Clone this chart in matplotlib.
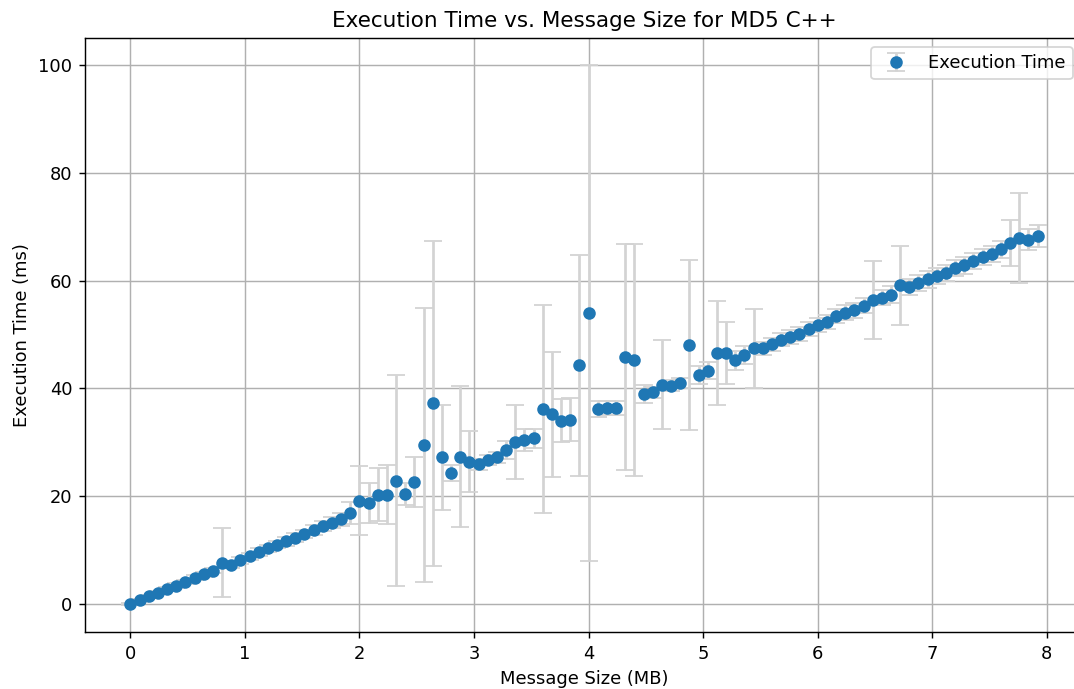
import numpy as np
import matplotlib
matplotlib.use('Agg')
import matplotlib.pyplot as plt

# message sizes in MB (100 sizes, 0.08 MB apart)
message_size = np.round(np.arange(100) * 0.08, 2)

# mean execution time in ms
exec_time = [
    0.0, 0.7, 1.4, 2.1, 2.8, 3.4, 4.1, 4.9, 5.5, 6.2,
    7.6, 7.3, 8.1, 8.8, 9.6, 10.3, 11.0, 11.6, 12.3, 13.0,
    13.7, 14.5, 15.1, 15.7, 16.9, 19.1, 18.8, 20.3, 20.3, 22.9,
    20.4, 22.6, 29.5, 37.2, 27.2, 24.3, 27.3, 26.4, 25.9, 26.7,
    27.2, 28.6, 30.1, 30.4, 30.7, 36.1, 35.2, 34.0, 34.2, 44.3,
    54.0, 36.1, 36.4, 36.4, 45.8, 45.2, 39.0, 39.3, 40.7, 40.5,
    41.0, 48.1, 42.5, 43.3, 46.6, 46.6, 45.2, 46.2, 47.4, 47.4,
    48.2, 49.0, 49.6, 50.0, 51.0, 51.7, 52.4, 53.4, 54.0, 54.5,
    55.3, 56.4, 56.8, 57.4, 59.1, 58.8, 59.6, 60.2, 60.8, 61.4,
    62.3, 62.8, 63.6, 64.4, 65.0, 65.8, 67.0, 67.9, 67.6, 68.3,
]

# standard deviation (error bar half-length) in ms
exec_std = [
    0.2, 0.3, 0.3, 0.3, 0.4, 0.4, 0.4, 0.5, 0.5, 0.5,
    6.4, 0.6, 0.6, 0.6, 0.7, 0.7, 0.7, 0.8, 0.8, 0.8,
    0.9, 0.9, 1.0, 1.2, 2.0, 6.4, 3.7, 5.0, 5.4, 19.5,
    2.0, 4.6, 25.4, 30.2, 9.8, 1.5, 13.1, 5.7, 1.0, 1.0,
    1.0, 1.7, 6.9, 2.0, 1.8, 19.3, 11.6, 4.0, 4.0, 20.5,
    46.0, 1.5, 1.3, 1.3, 21.0, 21.5, 1.7, 1.0, 8.3, 1.0,
    1.0, 15.8, 1.7, 1.5, 9.7, 5.7, 1.8, 1.7, 7.4, 1.2,
    1.2, 1.2, 1.3, 1.3, 1.3, 1.3, 1.3, 1.3, 1.4, 1.4,
    1.4, 7.2, 1.4, 1.5, 7.4, 1.5, 1.5, 1.5, 1.5, 1.5,
    1.5, 1.5, 1.5, 1.5, 1.5, 1.6, 4.3, 8.3, 2.0, 2.0,
]

fig = plt.figure(figsize=(1074 / 129, 689 / 129), dpi=129)
# the original figure was cut off on the right, so the axes run past the edge
ax = fig.add_axes([85 / 1074, 57 / 689, 998 / 1074, 594 / 689])

ax.errorbar(message_size, exec_time, yerr=exec_std, fmt='o', color='#1f77b4',
            ecolor='lightgray', capsize=5, label='Execution Time')

ax.set_title('Execution Time vs. Message Size for MD5 C++')
ax.set_xlabel('Message Size (MB)')
ax.set_ylabel('Execution Time (ms)')
ax.grid(True)
ax.spines['right'].set_visible(False)
ax.legend(loc='upper right', borderaxespad=0,
          bbox_to_anchor=(1073 / 1074, 1 - 47 / 689), bbox_transform=fig.transFigure)

fig.savefig('out.png', dpi=129)
